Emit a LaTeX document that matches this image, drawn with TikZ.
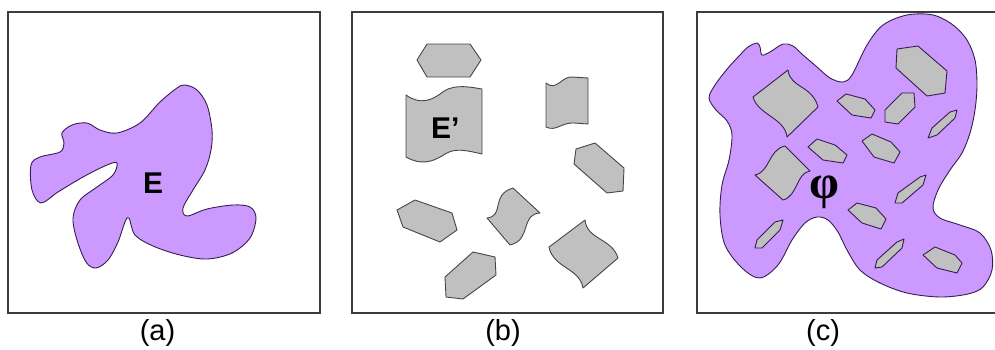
\documentclass[tikz,border=0pt]{standalone}
\usepackage{fontspec}
\setmainfont{Liberation Sans}
\newfontfamily\phifont{Liberation Serif}
\definecolor{lilac}{RGB}{204,153,255}
\definecolor{lilacline}{RGB}{55,30,80}
\definecolor{tilegray}{RGB}{192,192,192}
\definecolor{tileline}{RGB}{70,70,70}
\definecolor{framegray}{RGB}{60,60,60}
\begin{document}
\begin{tikzpicture}[x=1pt, y=-1pt,
    panelbox/.style={draw=framegray, line width=1.2pt},
    regionfill/.style={fill=lilac, draw=lilacline, line width=0.9pt},
    piece/.style={fill=tilegray, draw=tileline, line width=0.9pt, line join=round},
    cpiece/.style={piece, draw=lilacline},
    captiontext/.style={font=\fontsize{29}{29}\selectfont, inner sep=0pt},
    letterlabel/.style={font=\fontsize{30}{30}\selectfont\bfseries, inner sep=0pt}]
    \useasboundingbox (0,0) rectangle (995,349);

    % Panel (a): the region E
    \draw[panelbox] (8,12) rectangle (320,313);
    \draw[regionfill] plot[smooth cycle, tension=0.55] coordinates {
        (185,85) (197,90) (207,105) (212,130) (211,150) (205,170) (193,190)
        (183,208) (187,216) (207,209) (233,205) (250,207) (256,218) (250,238)
        (232,253) (207,259) (180,255) (153,246) (135,235) (129,218) (125,222)
        (118,242) (108,260) (96,268) (86,262) (77,240) (73,218) (80,200)
        (97,187) (113,175) (117,163) (107,165) (83,177) (58,192) (41,203)
        (32,190) (31,165) (40,157) (60,152) (64,143) (62,133) (72,125)
        (87,123) (100,130) (117,133) (140,123) (160,102) (177,88)};
    \node[letterlabel, anchor=base west] (ea) at (143,193) {E};
    \node[captiontext] (capa) at (157.5,333) {(a)};

    % Panel (b): the pieces E'
    \draw[panelbox] (352,12) rectangle (663,313);
    \draw[piece] (417,60) -- (427,44) -- (470,44) -- (481,60) -- (470,77) -- (427,77) -- cycle;
    \draw[piece] (406,95) .. controls (420,105) and (432,101) .. (444,91)
        .. controls (456,84) and (470,87) .. (482,89) -- (482,154)
        .. controls (465,150) and (455,148) .. (445,154)
        .. controls (432,163) and (420,165) .. (406,157) -- cycle;
    \draw[piece] (546,83) .. controls (556,92) and (562,76) .. (572,77) -- (588,78)
        -- (588,124) -- (574,123) .. controls (562,122) and (556,132) .. (546,127) -- cycle;
    \draw[piece] (576,149) -- (595,143) -- (624,168) -- (623,191) -- (607,193) -- (574,164) -- cycle;
    \draw[piece] (397,210) -- (415,200) -- (452,213) -- (457,230) -- (440,242) -- (403,227) -- cycle;
    \draw[piece] (487,218) .. controls (505,216) and (490,195) .. (513,188) -- (540,213)
        .. controls (520,214) and (532,240) .. (510,245) -- cycle;
    \draw[piece] (445,277) -- (473,252) -- (495,257) -- (496,275) -- (463,299) -- (446,297) -- cycle;
    \draw[piece] (549,247) -- (585,220) .. controls (587,240) and (612,238) .. (618,258)
        -- (583,288) .. controls (580,268) and (553,268) .. (549,247) -- cycle;
    \node[letterlabel, anchor=base west] (eb) at (431,138) {E’};
    \node[captiontext] (capb) at (503,333) {(b)};

    % Panel (c): the region phi with its holes
    \draw[panelbox] (697,12) rectangle (1000,313);
    \draw[regionfill] plot[smooth cycle, tension=0.55] coordinates {
        (748,47) (757,43) (760,47) (762,55) (770,52) (783,44) (793,46) (803,55)
        (817,67) (830,78) (843,82) (852,75) (867,45) (883,25) (907,15) (933,15)
        (953,25) (967,40) (975,60) (977,85) (975,110) (970,133) (962,153)
        (950,170) (938,190) (933,208) (940,218) (960,225) (980,233) (991,250)
        (992,270) (983,287) (968,294) (940,297) (907,293) (880,283) (860,270)
        (847,250) (838,232) (828,220) (817,217) (805,223) (792,240) (778,265)
        (760,278) (742,268) (725,245) (720,215) (722,185) (729,160) (732,135)
        (727,121) (716,110) (709,98) (715,85) (728,68) (740,55)};
    \draw[cpiece] (753,97) -- (788,70) .. controls (790,88) and (812,85) .. (818,107)
        -- (787,137) .. controls (785,118) and (758,115) .. (753,97) -- cycle;
    \draw[cpiece] (755,175) .. controls (770,172) and (768,150) .. (785,146) -- (810,171)
        .. controls (796,173) and (798,196) .. (783,200) -- cycle;
    \draw[cpiece] (837,101) -- (846,94) -- (865,99) -- (875,110) -- (871,118) -- (852,115) -- cycle;
    \draw[cpiece] (885,110) -- (902,93) -- (914,93) -- (915,107) -- (898,124) -- (885,122) -- cycle;
    \draw[cpiece] (897,49) -- (918,46) -- (947,71) -- (945,93) -- (927,96) -- (896,68) -- cycle;
    \draw[cpiece] (928,138) -- (932,128) -- (950,112) -- (957,110) -- (955,118) -- (937,135) -- cycle;
    \draw[cpiece] (808,147) -- (817,139) -- (835,145) -- (847,155) -- (843,163) -- (823,160) -- cycle;
    \draw[cpiece] (862,141) -- (872,134) -- (891,142) -- (900,152) -- (894,163) -- (874,157) -- cycle;
    \draw[cpiece] (895,203) -- (898,193) -- (920,177) -- (926,175) -- (923,185) -- (902,203) -- cycle;
    \draw[cpiece] (848,210) -- (857,203) -- (876,208) -- (886,219) -- (881,229) -- (862,223) -- cycle;
    \draw[cpiece] (755,248) -- (757,240) -- (775,222) -- (783,220) -- (780,230) -- (762,248) -- cycle;
    \draw[cpiece] (875,268) -- (877,260) -- (897,242) -- (904,239) -- (902,248) -- (882,267) -- cycle;
    \draw[cpiece] (923,255) -- (935,247) -- (955,255) -- (962,263) -- (957,273) -- (937,268) -- cycle;
    \node[inner sep=0pt, font=\phifont\bfseries\fontsize{48}{48}\selectfont] (phi) at (824,192) {φ};
    \node[captiontext] (capc) at (823,333) {(c)};
\end{tikzpicture}
\end{document}
